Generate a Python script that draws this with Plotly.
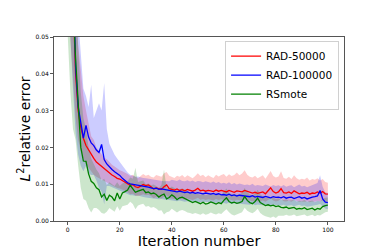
import plotly.graph_objects as go

# Iterations 0..100 ; values are L2 relative error in units of 1e-3
iterations = list(range(101))

red_mean = [120, 95, 62, 40, 30, 25.5, 22.5, 20.5, 19.2, 18, 17, 16, 15.4, 14.8, 14.2, 13.7, 13, 12.5, 12.1, 11.6,
            11.4, 11.0, 10.7, 10.3, 9.7, 9.9, 9.3, 9.1, 9.5, 9.9, 9.6, 9.8, 9.3, 8.7, 9.0, 8.7, 8.6, 9.3, 9.8, 8.8,
            8.6, 8.4, 8.7, 8.3, 8.5, 8.2, 8.6, 8.3, 8.1, 8.4, 8.9, 8.2, 8.4, 8.1, 8.3, 8.2, 8.0, 8.4, 8.1, 8.3,
            8.2, 7.9, 8.3, 8.0, 7.8, 8.2, 8.1, 7.9, 8.3, 8.0, 7.9, 7.6, 7.8, 7.5, 7.7, 7.9, 7.4, 8.1, 9.0, 8.0,
            7.6, 7.9, 8.8, 7.7, 7.6, 7.9, 7.5, 8.2, 7.7, 7.4, 7.6, 7.5, 7.8, 7.3, 7.6, 7.5, 7.9, 7.6, 8.0, 7.4, 7.3]
red_upper = [200, 150, 100, 62, 48, 40, 34, 30, 26, 23, 22, 20, 19, 18, 17.2, 16.8, 16, 15.3, 14.8, 14.2,
             13.8, 13.5, 13.2, 12.8, 12.2, 12.6, 12.0, 11.6, 12.2, 12.8, 12.3, 12.6, 12.0, 11.8, 12.5, 12.2, 12.0, 13.0, 13.3, 12.3,
             12.0, 11.7, 12.3, 12.0, 12.5, 11.8, 12.4, 12.0, 11.6, 12.2, 13.0, 12.2, 12.6, 11.9, 12.4, 12.0, 11.7, 12.6, 12.1, 12.5,
             12.8, 12.0, 12.7, 12.2, 12.5, 13.2, 12.4, 12.9, 13.8, 12.6, 12.0, 11.8, 12.3, 11.6, 12.0, 12.4, 11.5, 12.6, 13.6, 12.2,
             11.8, 12.1, 13.5, 11.7, 11.5, 12.0, 11.4, 12.4, 11.6, 11.2, 11.5, 11.3, 11.8, 11.0, 11.4, 11.2, 11.6, 11.0, 11.4, 10.6, 10.4]
red_lower = [60, 50, 38, 28, 22, 19, 17, 15.5, 14.5, 13.5, 12.6, 12, 11.6, 11.2, 10.8, 10.4, 10.0, 9.6, 9.3, 9.0,
             8.8, 8.5, 8.2, 7.9, 7.3, 7.4, 6.9, 6.8, 7.0, 7.3, 7.0, 7.1, 6.8, 6.2, 6.5, 6.2, 6.1, 6.6, 7.0, 6.2,
             6.1, 6.0, 6.2, 5.9, 6.0, 5.8, 6.1, 5.9, 5.7, 6.0, 6.3, 5.8, 6.0, 5.7, 5.9, 5.8, 5.6, 6.0, 5.7, 5.9,
             5.8, 5.6, 5.9, 5.7, 5.5, 5.8, 5.7, 5.6, 5.9, 5.7, 5.6, 5.4, 5.5, 5.3, 5.4, 5.6, 5.2, 5.7, 6.2, 5.6,
             5.3, 5.5, 6.0, 5.4, 5.3, 5.5, 5.2, 5.7, 5.4, 5.2, 5.3, 5.2, 5.4, 5.1, 5.3, 5.2, 5.5, 5.3, 5.6, 5.1, 5.0]

blue_mean = [130, 100, 68, 42, 31, 27, 22.5, 26, 22.8, 21.2, 20.5, 19.3, 18.6, 20.8, 16.7, 15.5, 14.6, 14.0, 13.4, 13.0,
             12.4, 11.6, 10.9, 10.4, 10.1, 10.0, 9.7, 9.8, 9.5, 9.4, 9.3, 9.2, 9.0, 8.8, 8.9, 8.6, 8.7, 8.5, 8.4, 8.3,
             8.2, 8.0, 7.9, 8.1, 7.8, 7.7, 7.9, 7.6, 7.8, 7.5, 7.7, 7.6, 7.4, 7.6, 7.5, 7.3, 7.5, 7.2, 7.4, 7.1,
             7.2, 7.0, 7.3, 6.9, 7.1, 6.8, 7.0, 6.9, 6.7, 6.8, 6.6, 6.9, 6.5, 6.7, 6.6, 6.4, 6.7, 6.5, 6.3, 6.6,
             6.4, 6.5, 6.3, 6.6, 6.2, 6.4, 6.5, 6.1, 6.3, 6.6, 6.2, 6.4, 6.0, 6.3, 6.5, 6.6, 6.8, 8.3, 6.0, 5.1, 5.0]
blue_upper = [230, 170, 110, 72, 55, 46, 36, 34, 31, 37, 28, 30, 32, 30, 37.5, 25, 21, 19.5, 18, 17,
              16, 15, 14, 13.2, 12.6, 12.4, 12.0, 12.1, 11.8, 11.7, 11.6, 11.5, 11.3, 11.1, 11.2, 10.9, 11.0, 10.8, 10.9, 10.8,
              11.2, 11.0, 10.9, 11.3, 10.9, 10.8, 11.1, 10.7, 11.0, 10.6, 10.9, 10.8, 10.5, 10.8, 10.7, 10.4, 10.7, 10.3, 10.6, 10.2,
              10.4, 10.1, 10.5, 10.0, 10.3, 9.9, 10.2, 10.0, 9.8, 9.9, 9.7, 10.1, 9.6, 9.8, 9.7, 9.5, 9.9, 9.6, 9.4, 9.8,
              9.5, 9.7, 9.4, 9.8, 9.3, 9.6, 9.7, 9.2, 9.5, 9.9, 9.4, 9.6, 9.2, 9.5, 9.7, 9.9, 10.3, 12.4, 9.3, 7.8, 7.6]
blue_lower = [60, 50, 36, 24, 18, 15, 13.5, 15, 13, 12.5, 12.5, 11, 9, 8, 4.5, 9.5, 9.5, 9.2, 8.9, 8.6,
              8.2, 7.8, 7.5, 7.2, 7.0, 7.0, 6.8, 6.9, 6.6, 6.5, 6.4, 6.3, 6.2, 6.0, 6.1, 5.9, 6.0, 5.8, 5.7, 5.7,
              5.6, 5.5, 5.4, 5.6, 5.3, 5.2, 5.4, 5.2, 5.3, 5.1, 5.2, 5.1, 5.0, 5.2, 5.1, 4.9, 5.1, 4.9, 5.0, 4.8,
              4.9, 4.7, 5.0, 4.6, 4.8, 4.6, 4.7, 4.6, 4.5, 4.6, 4.4, 4.7, 4.3, 4.5, 4.4, 4.3, 4.5, 4.3, 4.2, 4.4,
              4.3, 4.3, 4.2, 4.4, 4.1, 4.2, 4.3, 4.0, 4.2, 4.4, 4.1, 4.2, 3.9, 4.1, 4.3, 4.3, 4.4, 4.6, 4.0, 3.4, 3.2]

green_mean = [110, 85, 60, 44, 31, 20, 16.3, 16.2, 12.8, 10.8, 10.2, 9.0, 8.5, 6.5, 7.3, 5.6, 7.0, 6.5, 5.5, 7.6,
              6.0, 7.6, 8.0, 8.4, 9.7, 8.9, 7.8, 8.1, 8.3, 8.6, 7.7, 7.9, 7.4, 7.6, 7.2, 6.5, 7.0, 7.3, 6.0, 6.4,
              7.1, 6.6, 5.8, 6.3, 6.5, 6.1, 5.6, 5.4, 5.0, 5.3, 4.9, 4.7, 5.1, 4.6, 4.8, 5.2, 4.9, 4.6, 5.0, 4.7,
              5.6, 6.3, 5.3, 4.9, 5.1, 4.8, 5.0, 5.3, 6.7, 5.6, 5.0, 4.7, 5.3, 6.2, 5.0, 4.6, 4.2, 4.4, 4.1, 4.3,
              3.9, 4.1, 3.7, 3.6, 3.8, 3.4, 3.5, 3.7, 3.2, 3.4, 3.3, 3.6, 3.1, 3.3, 3.5, 3.0, 3.4, 3.2, 3.9, 4.2, 4.3]
green_upper = [190, 140, 95, 65, 47, 35, 28, 25, 20, 17, 15.5, 14, 13, 11, 11.5, 9.8, 10.5, 10, 9.5, 10.5,
               9.5, 10.2, 10.5, 10.8, 11.8, 11.5, 14.5, 10.6, 10.8, 11.0, 10.0, 10.2, 9.7, 9.9, 9.5, 9.0, 9.8, 14.0, 8.8, 8.9,
               9.4, 9.0, 8.3, 8.7, 8.9, 8.5, 8.0, 7.8, 7.4, 7.6, 7.3, 7.1, 7.5, 7.0, 7.2, 7.6, 7.3, 7.0, 7.4, 7.1,
               8.0, 8.8, 7.6, 7.2, 7.4, 7.1, 7.3, 7.6, 9.0, 7.9, 7.2, 6.9, 7.5, 8.5, 7.2, 6.7, 6.3, 6.5, 6.2, 6.4,
               6.0, 6.2, 5.8, 5.7, 5.9, 5.5, 5.6, 5.8, 5.3, 5.5, 5.4, 5.7, 5.2, 5.4, 5.6, 5.1, 5.5, 5.3, 6.0, 6.3, 6.4]
green_lower = [50, 35, 25, 22, 15, 9, 6, 5.5, 3.5, 2.3, 3.5, 3.5, 3.0, 2.2, 2.0, 2.5, 3.5, 3.0, 2.5, 4.0,
               2.8, 4.0, 4.3, 4.4, 5.2, 4.6, 3.2, 4.2, 4.5, 4.7, 3.9, 4.1, 3.6, 3.8, 3.4, 2.8, 2.9, 1.8, 2.4, 2.6,
               3.3, 2.9, 2.3, 2.8, 3.0, 2.7, 2.3, 2.2, 1.9, 2.2, 1.9, 1.7, 2.1, 1.7, 1.9, 2.3, 2.0, 1.8, 2.1, 1.9,
               2.6, 3.2, 2.4, 1.8, 1.5, 1.8, 2.2, 2.4, 3.6, 2.8, 2.4, 2.1, 2.6, 3.3, 2.2, 1.6, 1.3, 1.0, 0.9, 1.2,
               0.8, 1.4, 1.3, 1.4, 1.7, 1.4, 1.5, 1.8, 1.3, 1.5, 1.5, 1.8, 1.3, 1.5, 1.7, 1.3, 1.6, 1.5, 2.0, 2.4, 2.5]

series_names = ["RAD-50000", "RAD-100000", "RSmote"]
line_colors = ["#ff0000", "#0000ff", "#008000"]
band_colors = ["rgba(255,0,0,0.2)", "rgba(0,0,255,0.2)", "rgba(0,128,0,0.2)"]

x_tick_vals = [0, 20, 40, 60, 80, 100]
y_tick_vals = [0, 10, 20, 30, 40, 50]
y_tick_text = ["0.00", "0.01", "0.02", "0.03", "0.04", "0.05"]

means = [red_mean, blue_mean, green_mean]
uppers = [red_upper, blue_upper, green_upper]
lowers = [red_lower, blue_lower, green_lower]

fig = go.Figure()
for i in range(3):
    fig.add_trace(go.Scatter(x=iterations, y=lowers[i], mode="lines", line=dict(width=0),
                             showlegend=False, hoverinfo="skip"))
    fig.add_trace(go.Scatter(x=iterations, y=uppers[i], mode="lines", line=dict(width=0),
                             fill="tonexty", fillcolor=band_colors[i], showlegend=False, hoverinfo="skip"))
for i in range(3):
    fig.add_trace(go.Scatter(x=iterations, y=means[i], mode="lines", name=series_names[i],
                             line=dict(color=line_colors[i], width=1.3)))

font_family = "DejaVu Sans"
fig.update_layout(
    width=374, height=249,
    margin=dict(l=46, r=38, t=29, b=28),
    paper_bgcolor="white", plot_bgcolor="white",
    font=dict(family=font_family, color="black"),
    showlegend=True,
    legend=dict(x=0.983, y=0.98, xanchor="right", yanchor="top", traceorder="normal",
                bgcolor="rgba(255,255,255,0.85)", bordercolor="#d0d0d0", borderwidth=1,
                font=dict(size=10.5, family=font_family), itemwidth=30, tracegroupgap=0),
    xaxis=dict(range=[-5.3, 106.2], tickvals=x_tick_vals, showgrid=False, zeroline=False,
               showline=True, mirror=True, linecolor="#555", linewidth=1,
               ticks="outside", ticklen=3, tickwidth=0.8, tickcolor="#555",
               tickfont=dict(size=6, family=font_family),
               title=dict(text="Iteration number", font=dict(size=14.5, family=font_family), standoff=2)),
    yaxis=dict(range=[0, 50], tickvals=y_tick_vals, ticktext=y_tick_text, showgrid=False, zeroline=False,
               showline=True, mirror=True, linecolor="#555", linewidth=1,
               ticks="outside", ticklen=3, tickwidth=0.8, tickcolor="#555",
               tickfont=dict(size=6, family=font_family),
               title=dict(text="<i>L</i><sup>2</sup>relative error", font=dict(size=14, family=font_family), standoff=1)),
)

fig.write_html("out.html")
